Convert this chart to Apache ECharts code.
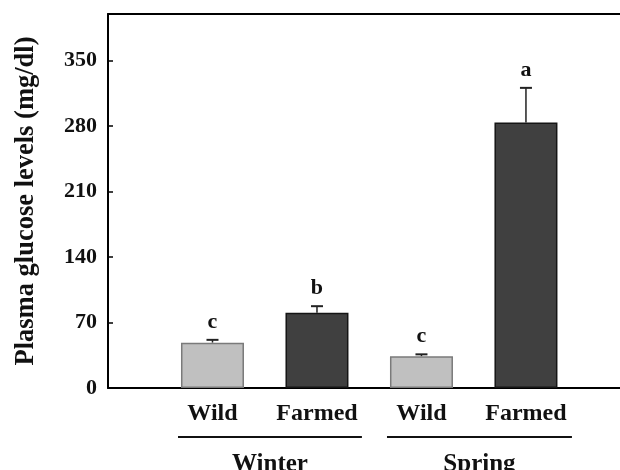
<!DOCTYPE html>
<html>
<head>
<meta charset="utf-8">
<script src="https://cdn.jsdelivr.net/npm/echarts@6/dist/echarts.min.js"></script>
<style>html,body{margin:0;padding:0;background:#fff;}#c{width:620px;height:470px;}</style>
</head>
<body>
<div id="c"></div>
<script>
// Data
const categories = ['Wild', 'Farmed', 'Wild', 'Farmed'];
const positions = [1, 2, 3, 4];
const means = [48.5, 80.5, 34, 284];
const errors = [3, 7, 2, 37];
const letters = ['c', 'b', 'c', 'a'];
const barKinds = ['wild', 'farmed', 'wild', 'farmed'];
const groupNames = ['Winter', 'Spring'];
const groupStart = [0.67, 2.67];
const groupEnd = [2.43, 4.44];
const yTicks = [0, 70, 140, 210, 280, 350];

const FONT = '"Liberation Serif", "Times New Roman", serif';
const colors = {
  wild: { fill: '#c0c0c0', border: '#7a7a7a' },
  farmed: { fill: '#404040', border: '#151515' }
};

const chart = echarts.init(document.getElementById('c'), null, { renderer: 'canvas' });

const barData = positions.map((p, i) => ({
  value: [p, means[i]],
  itemStyle: { color: colors[barKinds[i]].fill, borderColor: colors[barKinds[i]].border, borderWidth: 1.5 }
}));

const errData = positions.map((p, i) => [p, means[i], means[i] + errors[i], letters[i]]);
const groupData = groupNames.map((g, i) => [groupStart[i], groupEnd[i], g]);

const XMAX = 4.9;

chart.setOption({
  animation: false,
  backgroundColor: '#fff',
  grid: { left: 108, top: 14, right: 0, bottom: 82, containLabel: false, outerBoundsMode: 'none' },
  xAxis: [{
    type: 'value', min: 0, max: XMAX, interval: 1,
    axisLine: { show: true, onZero: false, lineStyle: { color: '#000', width: 2 } },
    axisTick: { show: false },
    splitLine: { show: false },
    axisLabel: {
      show: true, margin: 14,
      fontFamily: FONT, fontWeight: 'bold', fontSize: 24, color: '#111',
      showMinLabel: true, showMaxLabel: true,
      formatter: v => {
        const idx = positions.indexOf(Math.round(v));
        return (Math.abs(v - Math.round(v)) < 1e-6 && idx >= 0) ? categories[idx] : '';
      }
    }
  }, {
    type: 'value', position: 'top', min: 0, max: XMAX,
    axisLine: { show: true, onZero: false, lineStyle: { color: '#000', width: 2 } },
    axisTick: { show: false }, axisLabel: { show: false }, splitLine: { show: false }
  }],
  yAxis: {
    type: 'value', min: 0, max: 400, interval: 70,
    name: 'Plasma glucose levels (mg/dl)',
    nameLocation: 'middle', nameGap: 68,
    nameTextStyle: { fontFamily: FONT, fontWeight: 'bold', fontSize: 26.5, color: '#111' },
    axisLine: { show: true, lineStyle: { color: '#000', width: 2 } },
    axisTick: { show: true, inside: true, length: 5, lineStyle: { color: '#000', width: 1.5 } },
    splitLine: { show: false },
    axisLabel: {
      margin: 11, fontFamily: FONT, fontWeight: 'bold', fontSize: 22, color: '#111',
      formatter: v => (yTicks.indexOf(v) >= 0 ? String(v) : '')
    }
  },
  series: [{
    type: 'bar',
    xAxisIndex: 0,
    data: barData,
    barWidth: 63
  }, {
    type: 'custom',
    xAxisIndex: 0,
    data: errData,
    z: 1,
    renderItem: (params, api) => {
      const x = api.value(0);
      const base = api.coord([x, api.value(1)]);
      const top = api.coord([x, api.value(2)]);
      const cap = 6;
      return {
        type: 'group',
        children: [
          { type: 'line', shape: { x1: base[0], y1: base[1], x2: top[0], y2: top[1] }, style: { stroke: '#222', lineWidth: 1.5 } },
          { type: 'line', shape: { x1: top[0] - cap, y1: top[1], x2: top[0] + cap, y2: top[1] }, style: { stroke: '#222', lineWidth: 2 } },
          { type: 'text', x: top[0], y: top[1] - 7,
            style: { text: errData[params.dataIndex][3], x: 0, y: 0, align: 'center', verticalAlign: 'bottom',
              font: 'bold 22px ' + FONT, fill: '#111' } }
        ]
      };
    }
  }, {
    type: 'custom',
    xAxisIndex: 0,
    data: groupData,
    clip: false,
    renderItem: (params, api) => {
      const a = api.coord([api.value(0), 0]);
      const b = api.coord([api.value(1), 0]);
      const ly = a[1] + 49;
      return {
        type: 'group',
        children: [
          { type: 'line', shape: { x1: a[0], y1: ly, x2: b[0], y2: ly }, style: { stroke: '#111', lineWidth: 2 } },
          { type: 'text', x: (a[0] + b[0]) / 2, y: a[1] + 77,
            style: { text: groupData[params.dataIndex][2], x: 0, y: 0, align: 'center', verticalAlign: 'middle',
              font: 'bold 25px ' + FONT, fill: '#111' } }
        ]
      };
    }
  }]
});
</script>
</body>
</html>
